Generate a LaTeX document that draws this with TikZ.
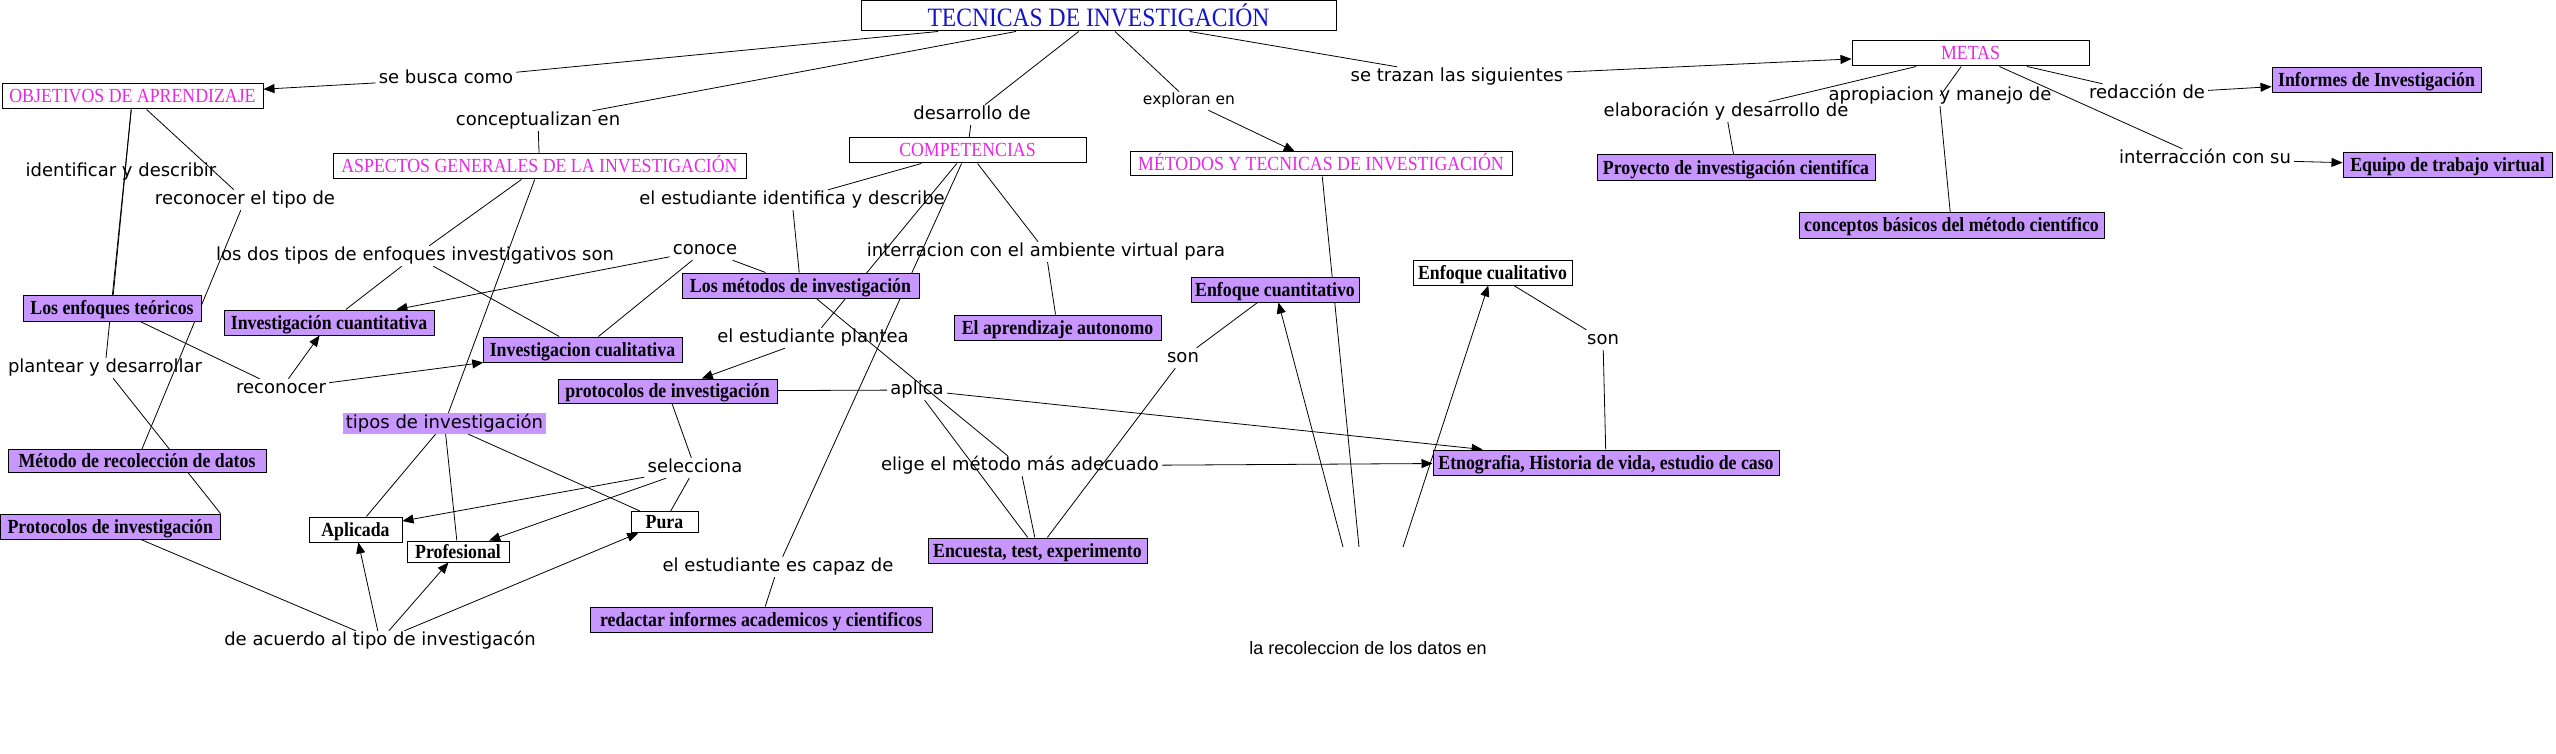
\documentclass[tikz,border=0pt]{standalone}
\usepackage{fontspec}
\setmainfont{Liberation Serif}[FakeStretch=0.89]
\newfontfamily\lkfont{DejaVu Sans}
\newfontfamily\arfont{Liberation Sans}
\usetikzlibrary{arrows.meta}
\definecolor{lav}{RGB}{200,150,255}
\definecolor{mag}{RGB}{230,40,230}
\definecolor{ttl}{RGB}{20,20,200}
\pgfdeclarelayer{bg}
\pgfsetlayers{bg,main}
\tikzset{
  sz/.style 2 args={minimum width=#1pt, minimum height=#2pt},
  base/.style={draw=black, line width=1pt, inner sep=0pt, text height=15pt, text depth=2pt},
  concept/.style={base, fill=white, text=mag, font={\fontsize{20}{22}\selectfont}},
  pbox/.style={base, fill=lav, font={\fontsize{20}{22}\selectfont\bfseries}},
  wbox/.style={base, fill=white, font={\fontsize{20}{22}\selectfont\bfseries}},
  lk/.style={inner xsep=3pt, inner ysep=1.5pt, font={\lkfont\fontsize{18}{20}\selectfont}, text height=13pt, text depth=4pt},
  conn/.style={line width=0.8pt, black},
  arr/.style={conn, -{Triangle[length=11pt,width=9pt]}},
}
\begin{document}
\begin{tikzpicture}[x=1pt, y=-1pt]
\useasboundingbox (0,0) rectangle (2556,754);
\begin{pgfonlayer}{bg}
\fill[white] (0,0) rectangle (2556,754);
\end{pgfonlayer}

% main concepts
\node[concept, font={\fontsize{26.5}{28}\selectfont}, text=ttl, sz={475}{30}, text height=23pt, text depth=1pt] (tec) at (1098.5,16) {TECNICAS DE INVESTIGACIÓN};
\node[concept, sz={261}{25}] (obj) at (132.5,96.5) {OBJETIVOS DE APRENDIZAJE};
\node[concept, sz={413}{25}] (asp) at (539.5,166.5) {ASPECTOS GENERALES DE LA INVESTIGACIÓN};
\node[concept, sz={237}{25}] (comp) at (967.5,150.5) {COMPETENCIAS};
\node[concept, sz={382}{24}] (met) at (1321,164) {MÉTODOS Y TECNICAS DE INVESTIGACIÓN};
\node[concept, sz={237}{25}] (metas) at (1970.5,53.5) {METAS};

% purple boxes
\node[pbox, sz={178}{26}] (enfteo) at (112,308) {Los enfoques teóricos};
\node[pbox, sz={210}{25}] (icuan) at (329,322.5) {Investigación cuantitativa};
\node[pbox, sz={199}{25}] (icual) at (582.5,349.5) {Investigacion cualitativa};
\node[pbox, sz={237}{25}] (metinv) at (800.5,285.5) {Los métodos de investigación};
\node[pbox, sz={207}{25}] (aprend) at (1057.5,327.5) {El aprendizaje autonomo};
\node[pbox, sz={168}{25}] (ecuan) at (1275,289.5) {Enfoque cuantitativo};
\node[pbox, sz={219}{24}] (prot) at (667.5,391) {protocolos de investigación};
\node[pbox, sz={258}{23}] (metrec) at (137,461) {Método de recolección de datos};
\node[pbox, sz={219.5}{25}] (prot2) at (110.25,526.5) {Protocolos de investigación};
\node[pbox, sz={342}{25}] (redact) at (761,619.5) {redactar informes academicos y cientificos};
\node[pbox, sz={219}{25}] (encu) at (1037.5,550.5) {Encuesta, test, experimento};
\node[pbox, sz={346}{25}] (etno) at (1606,462.5) {Etnografia, Historia de vida, estudio de caso};
\node[pbox, sz={278}{26}] (proy) at (1736,168) {Proyecto de investigación cientifíca};
\node[pbox, sz={305}{25}] (concep) at (1951.5,225.5) {conceptos básicos del método científico};
\node[pbox, sz={209}{25}] (equipo) at (2447.5,165.5) {Equipo de trabajo virtual};
\node[pbox, sz={209}{25}] (informes) at (2376.5,80.5) {Informes de Investigación};

% white bold boxes
\node[wbox, sz={159}{25}] (ecual) at (1492.5,272.5) {Enfoque cualitativo};
\node[wbox, sz={93}{25}] (aplic) at (355.5,529.5) {Aplicada};
\node[wbox, sz={102}{21}] (prof) at (458,551.5) {Profesional};
\node[wbox, sz={67}{21}] (pura) at (664.5,522) {Pura};

% linking phrases
\node[lk] (sebusca) at (446,79) {se busca como};
\node[lk] (concen) at (538,121) {conceptualizan en};
\node[lk] (desarr) at (972,115) {desarrollo de};
\node[lk, font={\lkfont\fontsize{15.5}{18}\selectfont}, text height=11.5pt, text depth=3.5pt] (explor) at (1189,101) {exploran en};
\node[lk] (setrazan) at (1457,77) {se trazan las siguientes};
\node[lk] (identif) at (121,172) {identificar y describir};
\node[lk] (recotipo) at (245,200) {reconocer el tipo de};
\node[lk] (losdos) at (415,256) {los dos tipos de enfoques investigativos son};
\node[lk] (conoce) at (705,250) {conoce};
\node[lk] (estid) at (792,200) {el estudiante identifica y describe};
\node[lk] (interrac) at (1046,252) {interracion con el ambiente virtual para};
\node[lk] (plantear) at (105,368) {plantear y desarrollar};
\node[lk] (reconocer) at (281,389) {reconocer};
\node[lk] (estpl) at (813,338) {el estudiante plantea};
\node[lk] (aplica) at (917,390) {aplica};
\node[lk, fill=lav, inner sep=0pt, sz={203}{21}] (tipos) at (444.5,423.5) {tipos de investigación};
\node[lk] (selecc) at (695,468) {selecciona};
\node[lk] (elige) at (1020,466) {elige el método más adecuado};
\node[lk] (capaz) at (778,567) {el estudiante es capaz de};
\node[lk] (acuerdo) at (380,641) {de acuerdo al tipo de investigacón};
\node[lk] (son1) at (1183,358) {son};
\node[lk] (son2) at (1603,340) {son};
\node[lk, font={\arfont\fontsize{18}{20}\selectfont}] (recol) at (1368,650) {la recoleccion de los datos en};
\node[lk] (elab) at (1726,112) {elaboración y desarrollo de};
\node[lk] (aprop) at (1940,96) {apropiacion y manejo de};
\node[lk] (redac) at (2147,94) {redacción de};
\node[lk] (interr2) at (2205,159) {interracción con su};

\coordinate (hubA) at (1343,547);
\coordinate (hubB) at (1359,547);
\coordinate (hubC) at (1403,547);

\begin{pgfonlayer}{bg}
\draw[conn] (tec) -- (sebusca);
\draw[arr] (sebusca) -- (obj);
\draw[conn] (tec) -- (concen);
\draw[conn] (concen) -- (asp);
\draw[conn] (tec) -- (desarr);
\draw[conn] (desarr) -- (comp);
\draw[conn] (tec) -- (explor);
\draw[arr] (explor) -- (met);
\draw[conn] (tec) -- (setrazan);
\draw[arr] (setrazan) -- (metas);
\draw[conn] (obj) -- (enfteo);
\draw[conn] (obj) -- (plantear);
\draw[conn] (obj) -- (recotipo);
\draw[conn] (recotipo) -- (metrec);
\draw[conn] (plantear) -- (prot2.north east);
\draw[conn] (enfteo) -- (reconocer);
\draw[arr] (reconocer) -- (icuan);
\draw[arr] (reconocer) -- (icual);
\draw[conn] (asp) -- (losdos);
\draw[conn] (losdos) -- (icuan);
\draw[conn] (losdos) -- (icual);
\draw[conn] (asp) -- (tipos);
\draw[conn] (metinv) -- (conoce);
\draw[arr] (conoce) -- (icuan);
\draw[conn] (conoce) -- (icual);
\draw[conn] (comp) -- (estid);
\draw[conn] (estid) -- (metinv);
\draw[conn] (comp) -- (estpl);
\draw[arr] (estpl) -- (prot);
\draw[conn] (comp) -- (capaz);
\draw[conn] (capaz) -- (redact);
\draw[conn] (comp) -- (interrac);
\draw[conn] (interrac) -- (aprend);
\draw[conn] (prot) -- (aplica);
\draw[arr] (aplica) -- (etno);
\draw[conn] (aplica) -- (encu);
\draw[conn] (metinv) -- (elige);
\draw[conn] (elige) -- (encu);
\draw[arr] (elige) -- (etno);
\draw[conn] (encu) -- (son1);
\draw[conn] (son1) -- (ecuan);
\draw[conn] (met) -- (hubB);
\draw[arr] (hubA) -- (ecuan);
\draw[arr] (hubC) -- (ecual);
\draw[conn] (ecual) -- (son2);
\draw[conn] (son2) -- (etno);
\draw[conn] (tipos) -- (aplic);
\draw[conn] (tipos) -- (prof);
\draw[conn] (tipos) -- (pura);
\draw[conn] (prot) -- (selecc);
\draw[conn] (selecc) -- (pura);
\draw[arr] (selecc) -- (aplic);
\draw[arr] (selecc) -- (prof);
\draw[conn] (prot2) -- (acuerdo);
\draw[arr] (acuerdo) -- (aplic);
\draw[arr] (acuerdo) -- (prof);
\draw[arr] (acuerdo) -- (pura);
\draw[conn] (metas) -- (elab);
\draw[conn] (elab) -- (proy);
\draw[conn] (metas) -- (aprop.center);
\draw[conn] (aprop.south) -- (concep);
\draw[conn] (metas) -- (interr2);
\draw[arr] (interr2) -- (equipo);
\draw[conn] (metas) -- (redac);
\draw[arr] (redac) -- (informes);
\end{pgfonlayer}
\end{tikzpicture}
\end{document}
